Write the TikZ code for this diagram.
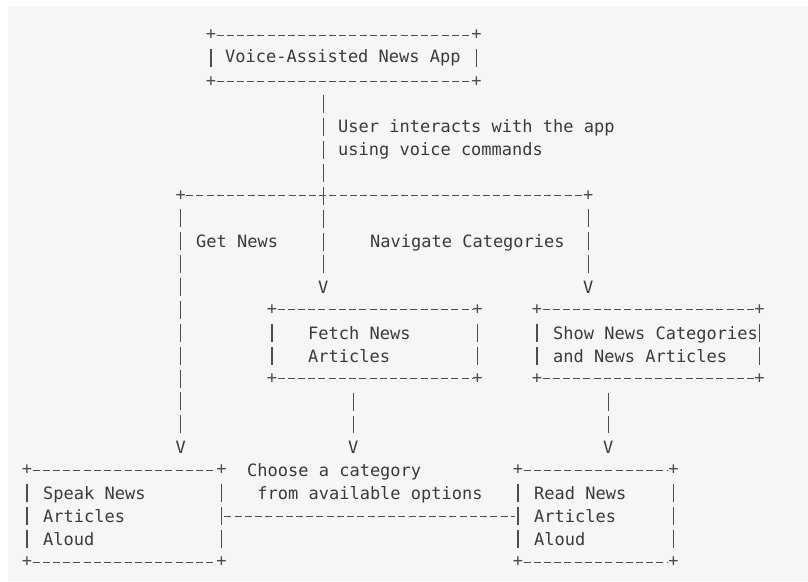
\documentclass[tikz,border=0pt]{standalone}
\usepackage{fontspec}
\usepackage{xcolor}
\setmonofont{DejaVu Sans Mono}

\definecolor{paper}{HTML}{F6F6F6}
\definecolor{ink}{HTML}{3A3A3A}
\definecolor{rule}{HTML}{4D4D4D}

\tikzset{
  asciibox/.style={rectangle, anchor=north west, inner ysep=0pt, align=flush left, text=ink,
    font=\ttfamily\fontsize{17}{22.9}\selectfont},
  asciitext/.style={anchor=base west, inner sep=0pt, align=left, text=ink,
    font=\ttfamily\fontsize{17}{22.9}\selectfont},
  plusmark/.style={inner sep=0pt, text=rule, font=\ttfamily\fontsize{17}{17}\selectfont},
  vmark/.style={inner sep=0pt, text=ink, font=\ttfamily\fontsize{17}{17}\selectfont},
  hline/.style={draw=rule, line width=1pt, dash pattern=on 7pt off 3.23pt,
    shorten <=5.5pt, shorten >=5.5pt},
  vline/.style={draw=rule, line width=1.2pt, dash pattern=on 18pt off 4.9pt,
    shorten <=13.9pt, shorten >=8pt},
}

\begin{document}
\begin{tikzpicture}[x=1pt, y=-1pt]
    % Page
    \useasboundingbox (0,0) rectangle (808,581);
    \fill[white] (0,0) rectangle (808,581);
    \fill[paper] (8,6) rectangle (808,581);

    % Boxes
    \node[asciibox, inner xsep=14pt, text width=237pt, minimum height=45.8pt] (app) at (211,35) {Voice-Assisted News App};
    \node[asciibox, inner xsep=36pt, text width=133pt, minimum height=68.7pt] (fetch) at (272,309.8) {Fetch News\\Articles};
    \node[asciibox, inner xsep=16pt, text width=190pt, minimum height=68.7pt] (show) at (537,309.8) {\mbox{Show News Categories}\\and News Articles};
    \node[asciibox, inner xsep=16pt, text width=162pt, minimum height=91.6pt] (speak) at (27,470.1) {Speak News\\Articles\\Aloud};
    \node[asciibox, inner xsep=16pt, text width=123pt, minimum height=91.6pt] (read) at (518,470.1) {Read News\\Articles\\Aloud};

    % Branch points
    \coordinate (jl) at (180.7,195.3);
    \coordinate (jc) at (323.3,195.3);
    \coordinate (jr) at (588.3,195.3);

    % Arrow heads
    \node[vmark] (vfetch) at (323.3,286.9) {V};
    \node[vmark] (vshow) at (588.3,286.9) {V};
    \node[vmark] (vspeak) at (180.7,447.2) {V};
    \node[vmark] (vchoose) at (353.3,447.2) {V};
    \node[vmark] (vread) at (608.3,447.2) {V};

    % Labels (base is the last line)
    \node[asciitext] (user) at (338,155.5) {User interacts with the app\\using voice commands};
    \node[asciitext] (get) at (196,247.1) {Get News};
    \node[asciitext] (navigate) at (370,247.1) {Navigate Categories};
    \node[asciitext] (choose) at (247,499) {Choose a category\\\ from available options};

    % Box borders
    \foreach \b in {app,fetch,show,speak,read}{
        \draw[hline] (\b.north west) -- (\b.north east);
        \draw[hline] (\b.south west) -- (\b.south east);
        \draw[vline, shorten >=13.9pt] (\b.north west) -- (\b.south west);
        \draw[vline, shorten >=13.9pt] (\b.north east) -- (\b.south east);
        \foreach \c [count=\i] in {north west,north east,south west,south east}
            \node[plusmark] (\b-\i) at (\b.\c) {+};
    }

    % Lines
    \draw[vline] (app.south -| jc) -- (vfetch);
    \draw[hline] (jl) -- (jr);
    \draw[vline] (jl) -- (vspeak);
    \draw[vline] (jr) -- (vshow);
    \draw[vline] (fetch.south -| vchoose) -- (vchoose);
    \draw[vline] (show.south -| vread) -- (vread);
    \draw[hline, shorten <=3pt, shorten >=3pt] (speak.east) -- (read.west);
    \node[plusmark] (jlplus) at (jl) {+};
    \node[plusmark] (jrplus) at (jr) {+};
\end{tikzpicture}
\end{document}
